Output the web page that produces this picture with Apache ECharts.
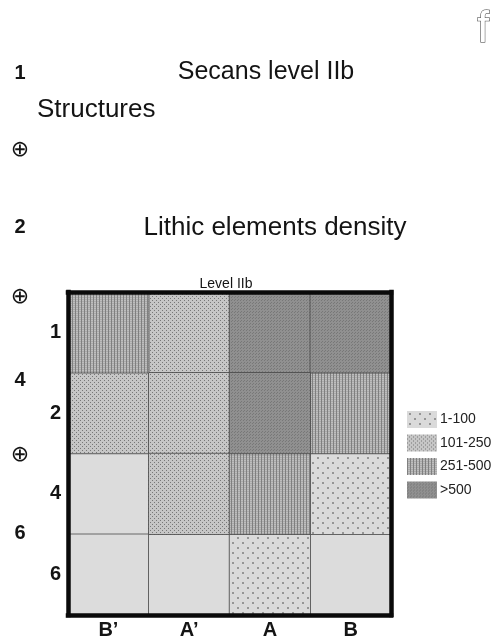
<!DOCTYPE html>
<html>
<head>
<meta charset="utf-8">
<script src="https://cdn.jsdelivr.net/npm/echarts@6/dist/echarts.min.js"></script>
<style>
html,body{margin:0;padding:0;background:#fff;}
#main{width:501px;height:641px;}
</style>
</head>
<body>
<div id="main"></div>
<script>
// ---- data ----
const colLabels = ["B\u2019", "A\u2019", "A", "B"];
const rowLabels = ["1", "2", "4", "6"];
const classNames = ["1-100", "101-250", "251-500", ">500"];
// density class per cell (0 = no lithic elements, 1..4 = index into classNames + 1)
const row1 = [3, 2, 4, 4];
const row2 = [2, 2, 4, 3];
const row4 = [0, 2, 3, 1];
const row6 = [0, 0, 1, 0];
const cellRows = [row1, row2, row4, row6];

// ---- patterns ----
function pat(w, h, bg, draw) {
  const c = document.createElement('canvas');
  c.width = w; c.height = h;
  const g = c.getContext('2d');
  g.fillStyle = bg; g.fillRect(0, 0, w, h);
  if (draw) draw(g);
  return { image: c, repeat: 'repeat' };
}
const fills = [
  '#dcdcdc',
  pat(10, 10, '#dadada', g => { g.fillStyle = '#959595'; g.fillRect(2, 2, 2, 2); g.fillRect(7, 7, 2, 2); }),
  pat(4, 4, '#c6c6c6', g => { g.fillStyle = '#777'; g.fillRect(0, 0, 1, 1); g.fillRect(2, 2, 1, 1); }),
  pat(3, 2, '#bebebe', g => { g.fillStyle = '#808080'; g.fillRect(0, 0, 1, 2); g.fillStyle = '#aaaaaa'; g.fillRect(1, 1, 2, 1); }),
  pat(3, 3, '#909090', g => { g.fillStyle = '#787878'; g.fillRect(0, 0, 1, 1); g.fillRect(1, 2, 1, 1); })
];

function classData(k) {
  const out = [];
  cellRows.forEach((r, ri) => r.forEach((v, ci) => { if (v === k) out.push([ci, ri, v]); }));
  return out;
}

const series = [];
for (let k = 0; k <= 4; k++) {
  series.push({
    type: 'heatmap',
    name: k === 0 ? 'none' : classNames[k - 1],
    data: classData(k),
    itemStyle: { color: fills[k], borderColor: '#4a4a4a', borderWidth: 0.8 },
    emphasis: { disabled: true },
    silent: true
  });
}

const FONT = "'Liberation Sans', Arial, sans-serif";
function txt(x, y, text, size, opts) {
  opts = opts || {};
  return {
    type: 'text', x: x, y: y, silent: true,
    style: Object.assign({
      text: text,
      font: (opts.weight || 'normal') + ' ' + size + 'px ' + (opts.family || FONT),
      fill: opts.fill || '#141414',
      align: opts.align || 'left',
      verticalAlign: 'middle'
    }, opts.extra || {})
  };
}

const borderAxisLine = { show: true, lineStyle: { color: '#0a0a0a', width: 4.5, cap: 'square' } };

const option = {
  animation: false,
  backgroundColor: '#fff',
  grid: { left: 68, top: 292, right: 110, bottom: 26, containLabel: false },
  xAxis: [
    { type: 'category', data: colLabels, position: 'bottom', z: 10,
      axisLine: borderAxisLine, axisTick: { show: false }, splitLine: { show: false },
      axisLabel: { fontFamily: FONT, fontWeight: 'bold', fontSize: 20, color: '#141414', margin: 5 } },
    { type: 'category', data: colLabels, position: 'top', z: 10,
      axisLine: borderAxisLine, axisTick: { show: false }, axisLabel: { show: false } }
  ],
  yAxis: [
    { type: 'category', data: rowLabels, inverse: true, position: 'left', z: 10,
      axisLine: borderAxisLine, axisTick: { show: false }, splitLine: { show: false },
      axisLabel: { fontFamily: FONT, fontWeight: 'bold', fontSize: 20, color: '#141414', margin: 7 } },
    { type: 'category', data: rowLabels, inverse: true, position: 'right', z: 10,
      axisLine: borderAxisLine, axisTick: { show: false }, axisLabel: { show: false } }
  ],
  legend: {
    data: classNames, orient: 'vertical', left: 402, top: 406,
    itemWidth: 30, itemHeight: 17, itemGap: 6.5, icon: 'rect',
    itemStyle: { borderWidth: 0 },
    textStyle: { fontFamily: FONT, fontSize: 14, color: '#222', padding: [0, 0, 0, -2] },
    selectedMode: false
  },
  graphic: [
    txt(483, 30, 'f', 44, { family: "'Liberation Sans Narrow', " + FONT, align: 'center', fill: '#fff', extra: { stroke: '#333', lineWidth: 1 } }),
    txt(20, 73, '1', 20, { weight: 'bold', align: 'center' }),
    txt(266, 72, 'Secans level IIb', 25, { align: 'center' }),
    txt(37, 110, 'Structures', 26),
    txt(20, 150, '\u2295', 22, { align: 'center', family: "'DejaVu Sans'" }),
    txt(20, 227, '2', 20, { weight: 'bold', align: 'center' }),
    txt(275, 228, 'Lithic elements density', 26, { align: 'center' }),
    txt(226, 284, 'Level IIb', 14, { align: 'center' }),
    txt(20, 297, '\u2295', 22, { align: 'center', family: "'DejaVu Sans'" }),
    txt(20, 380, '4', 20, { weight: 'bold', align: 'center' }),
    txt(20, 455, '\u2295', 22, { align: 'center', family: "'DejaVu Sans'" }),
    txt(20, 533, '6', 20, { weight: 'bold', align: 'center' })
  ],
  series: series
};

const chart = echarts.init(document.getElementById('main'), null, { renderer: 'canvas' });
chart.setOption(option);
</script>
</body>
</html>
